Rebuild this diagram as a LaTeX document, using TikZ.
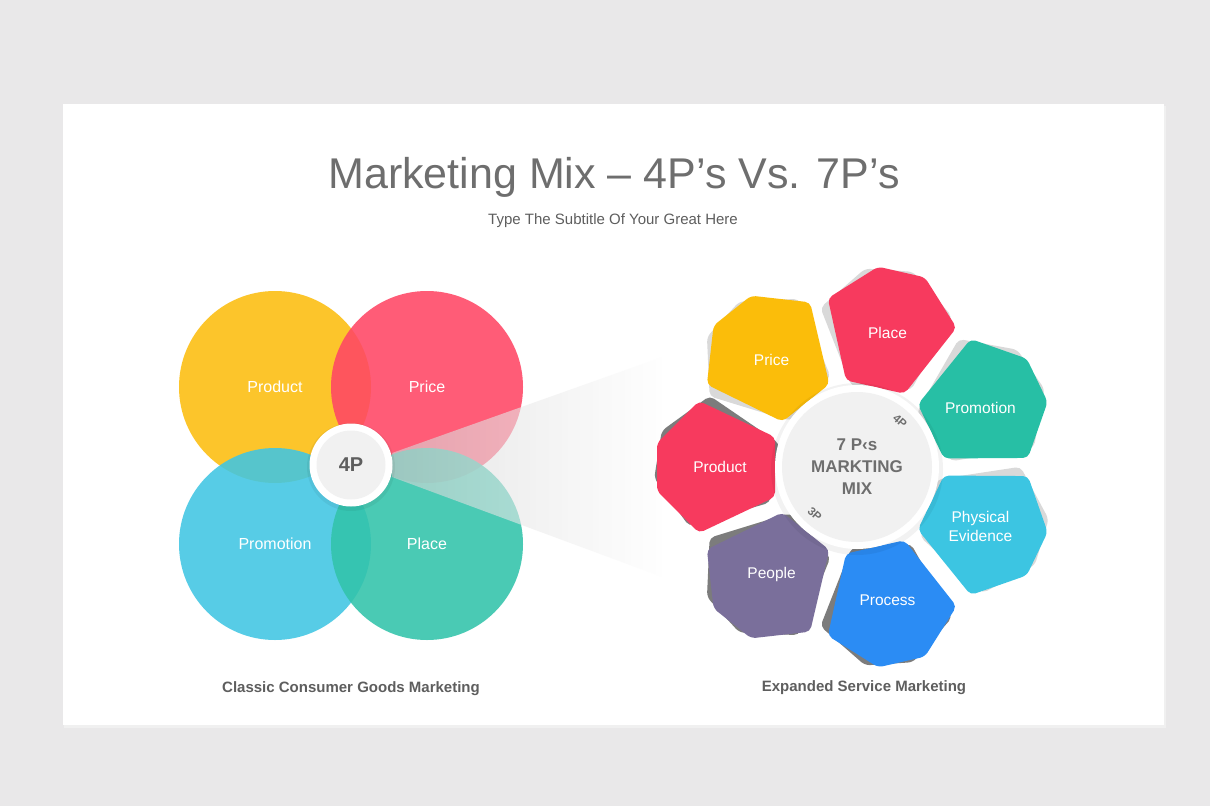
\documentclass[tikz,border=0pt]{standalone}
\usepackage{fontspec}
\setmainfont{Liberation Sans}
\usetikzlibrary{calc}

\definecolor{pagegray}{HTML}{E9E8E9}
\definecolor{titlegray}{HTML}{6E6E6E}
\definecolor{textgray}{HTML}{5E5E5E}
\definecolor{hubgray}{HTML}{F1F1F1}
\definecolor{yellowP}{HTML}{FCBE0E}
\definecolor{pinkP}{HTML}{FF4665}
\definecolor{cyanP}{HTML}{40C6E3}
\definecolor{tealP}{HTML}{32C3AA}
\definecolor{priceY}{HTML}{FBBD0A}
\definecolor{placeR}{HTML}{F73A5E}
\definecolor{promoT}{HTML}{27BFA5}
\definecolor{evidC}{HTML}{3CC5E2}
\definecolor{procB}{HTML}{2B8CF4}
\definecolor{peopleV}{HTML}{7A6F9B}
\definecolor{lightsh}{HTML}{D9D9D9}
\definecolor{darksh}{HTML}{7C7C7C}

\tikzset{
  bigcircle/.style={circle, minimum size=192, inner sep=0, fill opacity=.88, text opacity=1, text=white, font=\fontsize{16}{19}\selectfont},
  petaltext/.style={text=white, align=center, font=\fontsize{15.5}{19}\selectfont},
  hubtext/.style={text=titlegray, inner sep=0, font=\bfseries\fontsize{17}{20}\selectfont},
  tagtext/.style={text=titlegray, inner sep=0, font=\bfseries\fontsize{11.5}{13}\selectfont},
  captiontext/.style={text=textgray, font=\bfseries\fontsize{15}{18}\selectfont},
}

\begin{document}
\begin{tikzpicture}[x=1pt, y=-1pt]
			%%%%% START %%%%%
			\useasboundingbox (0,0) rectangle (1210,806);
			\fill[pagegray] (0,0) rectangle (1210,806);
			\fill[black!6] (64,106) rectangle (1166,728);
			\fill[white] (63,104) rectangle (1164,725);
			
			\node[text=titlegray, font=\fontsize{43}{50}\selectfont] (title) at (614,177) {Marketing Mix \textendash\ 4P's Vs. 7P's};
			\node[text=textgray, font=\fontsize{15}{18}\selectfont] (subtitle) at (613,221) {Type The Subtitle Of Your Great Here};
			
			% four overlapping circles
			\node[bigcircle, fill=yellowP] (product) at (275,387) {Product};
			\node[bigcircle, fill=pinkP] (price) at (427,387) {Price};
			\node[bigcircle, fill=cyanP] (promotion) at (275,544) {Promotion};
			\node[bigcircle, fill=tealP] (place) at (427,544) {Place};
			
			% funnel towards the wheel
			\shade[left color=black!17, right color=white, fill opacity=.6] (392,453) -- (665,356) -- (665,578) -- (392,477) -- cycle;
			
			\fill[black, opacity=.05] (351,467) circle (44);
			\node[circle, fill=white, minimum size=83] (fourring) at (351,465) {};
			\node[circle, fill=hubgray, minimum size=69, text=textgray, font=\bfseries\fontsize{20}{24}\selectfont] (fourp) at (351,465) {4P};
			
			% seven petal wheel
			\begin{scope}[shift={(857,467)}, y=1pt]
				\foreach \a/\sh/\r in {128.57/lightsh/9, 77.14/lightsh/9, 25.71/lightsh/9, -25.71/lightsh/9, -77.14/darksh/-9, -128.57/darksh/-9, 180/darksh/-9}
					\fill[\sh, rotate=\a, rotate around={\r:(120,0)}, rounded corners=5] (82,-30) -- (158,-66) -- (200,-24) -- (200,24) -- (158,66) -- (82,30) -- cycle;
				\foreach \a/\col in {128.57/priceY, 77.14/placeR, 25.71/promoT, -25.71/evidC, -77.14/procB, -128.57/peopleV, 180/placeR}
					\fill[\col, rotate=\a, rounded corners=5] (82,-30) -- (158,-66) -- (200,-24) -- (200,24) -- (158,66) -- (82,30) -- cycle;
				
				\fill[black, opacity=.05] (0,-2) circle (86);
				\fill[white] (0,0) circle (82);
				\fill[hubgray] (0,0) circle (75);
				\node[hubtext] (hubline1) at (0,22) {7 P‹s};
				\node[hubtext] (hubline2) at (0,0) {MARKTING};
				\node[hubtext] (hubline3) at (0,-22) {MIX};
				\node[tagtext, rotate=-42] (tagfour) at (47:63) {4P};
				\node[tagtext, rotate=-42] (tagthree) at (-132:63) {3P};
				
				\foreach \a/\txt/\n in {128.57/Price/price7, 77.14/Place/place7, 25.71/Promotion/promotion7, -25.71/{Physical\\Evidence}/evidence7, -77.14/Process/process7, -128.57/People/people7, 180/Product/product7}
					\node[petaltext] (\n) at (\a:137) {\txt};
			\end{scope}
			
			\node[captiontext] (classic) at (351,689) {Classic Consumer Goods Marketing};
			\node[captiontext] (expanded) at (864,688) {Expanded Service Marketing};
			%%%%% END %%%%%
\end{tikzpicture}
\end{document}
